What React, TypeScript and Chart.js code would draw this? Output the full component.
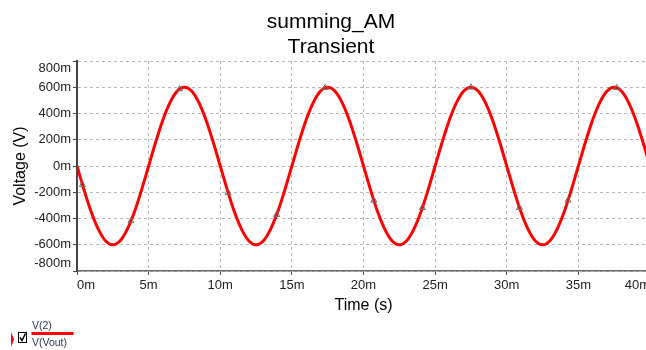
import React, { useEffect, useRef } from "react";
import { Chart, registerables } from "chart.js";

Chart.register(...registerables);

const chartTitle = ["summing_AM", "Transient"];
const xAxisTitle = "Time (s)";
const yAxisTitle = "Voltage (V)";
const legendTop = "V(2)";
const legendBottom = "V(Vout)";

// time in ms
const timeMs = [
  0, 0.5, 1, 1.5, 2, 2.5, 3, 3.5, 4, 4.5, 5, 5.5, 6, 6.5, 7, 7.5, 8, 8.5, 9, 9.5,
  10, 10.5, 11, 11.5, 12, 12.5, 13, 13.5, 14, 14.5, 15, 15.5, 16, 16.5, 17, 17.5, 18, 18.5, 19, 19.5,
  20, 20.5, 21, 21.5, 22, 22.5, 23, 23.5, 24, 24.5, 25, 25.5, 26, 26.5, 27, 27.5, 28, 28.5, 29, 29.5,
  30, 30.5, 31, 31.5, 32, 32.5, 33, 33.5, 34, 34.5, 35, 35.5, 36, 36.5, 37, 37.5, 38, 38.5, 39, 39.5,
  40,
];

// V(Vout) in volts
const vout = [
  0, -0.185, -0.353, -0.485, -0.571, -0.6, -0.571, -0.485, -0.353, -0.185,
  0, 0.185, 0.353, 0.485, 0.571, 0.6, 0.571, 0.485, 0.353, 0.185,
  0, -0.185, -0.353, -0.485, -0.571, -0.6, -0.571, -0.485, -0.353, -0.185,
  0, 0.185, 0.353, 0.485, 0.571, 0.6, 0.571, 0.485, 0.353, 0.185,
  0, -0.185, -0.353, -0.485, -0.571, -0.6, -0.571, -0.485, -0.353, -0.185,
  0, 0.185, 0.353, 0.485, 0.571, 0.6, 0.571, 0.485, 0.353, 0.185,
  0, -0.185, -0.353, -0.485, -0.571, -0.6, -0.571, -0.485, -0.353, -0.185,
  0, 0.185, 0.353, 0.485, 0.571, 0.6, 0.571, 0.485, 0.353, 0.185,
  0,
];

// data markers on the trace
const markerTimeMs = [0.38, 3.77, 7.16, 10.55, 13.94, 17.33, 20.72, 24.11, 27.5, 30.89, 34.28, 37.67];
const markerVolts = [-0.142, -0.419, 0.586, -0.203, -0.371, 0.596, -0.262, -0.318, 0.6, -0.318, -0.262, 0.596];

const FONT = "'Liberation Sans', Arial, Helvetica, sans-serif";

const overlayPlugin = {
  id: "overlayText",
  afterDraw(chart: any) {
    const ctx = chart.ctx as CanvasRenderingContext2D;
    const area = chart.chartArea;
    ctx.save();
    // Titles
    ctx.fillStyle = "#000";
    ctx.textAlign = "center";
    ctx.textBaseline = "alphabetic";
    ctx.font = `21px ${FONT}`;
    ctx.fillText(chartTitle[0], 331, 28);
    ctx.fillText(chartTitle[1], 331, 53);
    // X axis title
    ctx.font = `16px ${FONT}`;
    ctx.textBaseline = "middle";
    ctx.fillText(xAxisTitle, (area.left + area.right) / 2, 306);
    // Y axis title
    ctx.save();
    ctx.translate(21, (area.top + area.bottom) / 2);
    ctx.rotate(-Math.PI / 2);
    ctx.fillText(yAxisTitle, 0, 0);
    ctx.restore();

    // Legend
    ctx.fillStyle = "#ff0000";
    ctx.beginPath();
    ctx.moveTo(11, 332);
    ctx.lineTo(14, 339.5);
    ctx.lineTo(11, 347);
    ctx.closePath();
    ctx.fill();

    ctx.strokeStyle = "#000";
    ctx.lineWidth = 1;
    ctx.strokeRect(18.5, 332.5, 8, 10);
    ctx.beginPath();
    ctx.moveTo(20, 337.5);
    ctx.lineTo(22, 340.5);
    ctx.lineTo(25.5, 333.5);
    ctx.lineWidth = 1.5;
    ctx.stroke();

    ctx.strokeStyle = "#ff0000";
    ctx.lineWidth = 3;
    ctx.beginPath();
    ctx.moveTo(31.5, 333.5);
    ctx.lineTo(73.5, 333.5);
    ctx.stroke();

    ctx.fillStyle = "#2b3550";
    ctx.font = `10.5px ${FONT}`;
    ctx.textAlign = "left";
    ctx.textBaseline = "middle";
    ctx.fillText(legendTop, 32, 326.5);
    ctx.fillText(legendBottom, 32, 343);
    ctx.restore();
  },
};

const yTickLabel = (v: any) => {
  const mv = Math.round(Number(v) * 1000);
  const s = `${mv}m`;
  // keep end labels inside the plot box, as in the reference
  if (mv === 800) return ["", s];
  if (mv === -800) return [s, ""];
  return s;
};

export default function App() {
  const canvasRef = useRef<HTMLCanvasElement | null>(null);

  useEffect(() => {
    const canvas = canvasRef.current;
    if (!canvas) return;
    const chart = new Chart(canvas, {
      type: "line",
      data: {
        datasets: [
          {
            data: markerTimeMs.map((t, i) => ({ x: t, y: markerVolts[i] })),
            showLine: false,
            pointStyle: "triangle",
            pointRadius: 3.5,
            borderColor: "#6e6e6e",
            backgroundColor: "rgba(0,0,0,0)",
            pointBorderWidth: 1,
          },
          {
            data: timeMs.map((t, i) => ({ x: t, y: vout[i] })),
            borderColor: "#ff0000",
            borderWidth: 3,
            pointRadius: 0,
            cubicInterpolationMode: "monotone",
            fill: false,
          },
        ],
      },
      options: {
        responsive: false,
        animation: false,
        devicePixelRatio: 1,
        layout: { padding: { left: 0, right: 12, top: 61, bottom: 0 } },
        plugins: {
          legend: { display: false },
          title: { display: false },
          tooltip: { enabled: false },
        },
        scales: {
          x: {
            type: "linear",
            min: 0,
            max: 40,
            afterFit: (s: any) => {
              s.height = 79;
            },
            ticks: {
              stepSize: 5,
              callback: (v: any) => `${v}m`,
              align: "inner",
              maxRotation: 0,
              autoSkip: false,
              padding: 3,
              color: "#222",
              font: { family: FONT, size: 13 },
            },
            grid: {
              color: "#b8b8b8",
              lineWidth: 1,
              tickLength: 4,
              tickColor: "#555",
              tickBorderDash: [],
            },
            border: { display: true, color: "#6a6a6a", width: 1.5, dash: [3, 3] },
          },
          y: {
            type: "linear",
            min: -0.8,
            max: 0.8,
            afterFit: (s: any) => {
              s.width = 77;
            },
            ticks: {
              stepSize: 0.2,
              callback: yTickLabel,
              autoSkip: false,
              padding: 2,
              color: "#222",
              font: { family: FONT, size: 13 },
            },
            grid: {
              color: "#b8b8b8",
              lineWidth: 1,
              tickLength: 4,
              tickColor: "#444",
              tickBorderDash: [],
            },
            border: { display: true, color: "#444", width: 2, dash: [3, 3] },
          },
        },
      },
      plugins: [overlayPlugin],
    } as any);
    return () => chart.destroy();
  }, []);

  return (
    <div
      style={{
        position: "fixed",
        left: 0,
        top: 0,
        width: 646,
        height: 350,
        overflow: "hidden",
        background: "#fff",
      }}
    >
      <canvas ref={canvasRef} width={662} height={350} style={{ display: "block", width: 662, height: 350 }} />
    </div>
  );
}
